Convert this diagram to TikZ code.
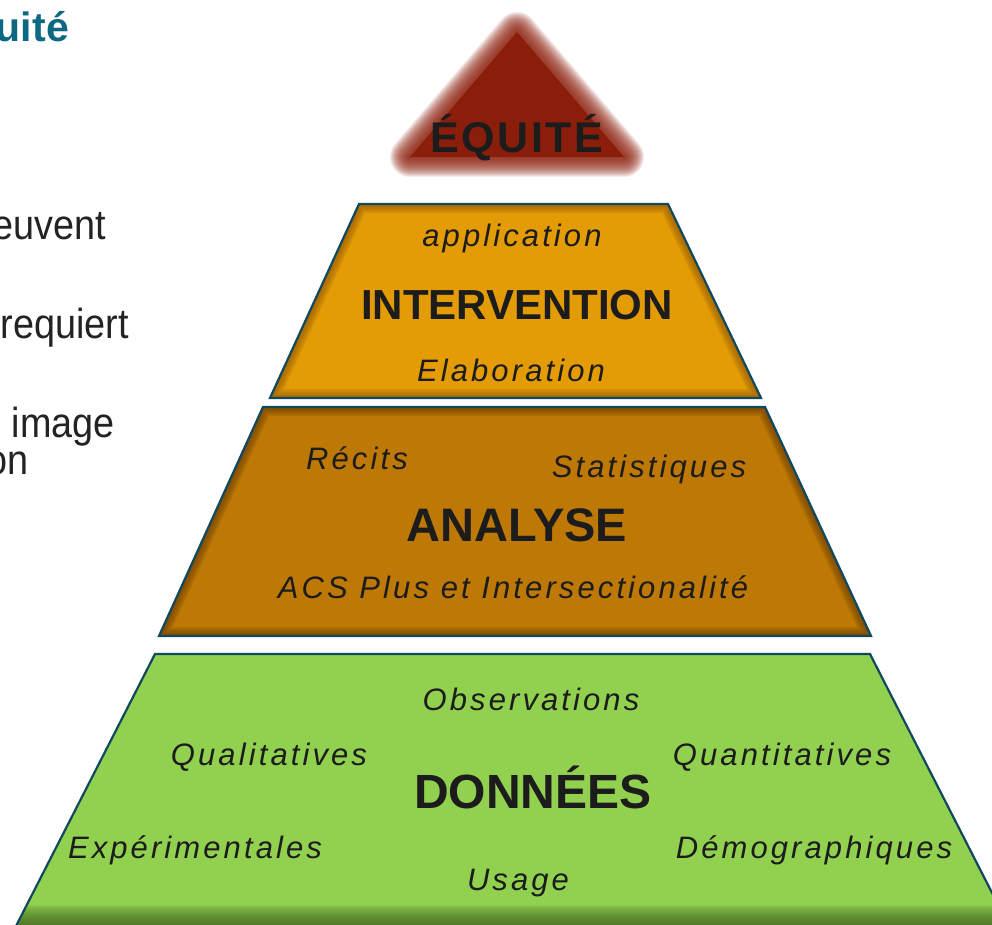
\documentclass[tikz,border=0pt]{standalone}
\usepackage{fontspec}
\setmainfont{Liberation Sans}
\newfontfamily\labf[LetterSpace=10]{Liberation Sans}
\newfontfamily\narrowf[FakeStretch=0.9]{Liberation Sans}
\definecolor{txt}{RGB}{28,28,28}
\definecolor{edge}{RGB}{16,72,94}
\definecolor{eqred}{RGB}{139,30,11}
\definecolor{intfill}{RGB}{227,155,6}
\definecolor{intdark}{RGB}{140,85,0}
\definecolor{anafill}{RGB}{190,120,5}
\definecolor{anadark}{RGB}{100,58,0}
\definecolor{donfill}{RGB}{146,208,80}
\definecolor{dondark}{RGB}{55,85,25}
\definecolor{teal}{RGB}{14,104,130}
\definecolor{bodytxt}{RGB}{35,35,35}
\tikzset{
  lbl/.style={font=\labf\itshape\fontsize{31}{33}\selectfont, text=txt, anchor=base, inner sep=0pt},
  ttl/.style={font=\bfseries\fontsize{42}{44}\selectfont, text=txt, anchor=base, inner sep=0pt},
  ttlbig/.style={font=\bfseries\fontsize{47}{49}\selectfont, text=txt, anchor=base, inner sep=0pt},
  side/.style={font=\narrowf\fontsize{42}{44}\selectfont, text=bodytxt, anchor=base west, inner sep=0pt},
  border/.style={draw=edge, line width=2.2pt, line join=miter}
}
\begin{document}
\begin{tikzpicture}[x=1pt,y=-1pt]
\useasboundingbox (0,0) rectangle (992,925);

% ---- cut-off slide text on the left
\node[font=\bfseries\fontsize{41}{43}\selectfont, text=teal, anchor=base east, inner sep=0pt] (ttlleft) at (69,42) {uité};
\node[side, anchor=base east] (s1) at (106,240) {euvent};
\node[side, anchor=base east] (s2) at (129,338) {requiert};
\node[side, anchor=base east] (s3) at (115,437) {image};
\node[side, anchor=base east] (s4) at (29,474) {on};

% ---- blurred triangle (Équité)
\coordinate (ta) at (517,32);
\coordinate (tb) at (410,157);
\coordinate (tc) at (624,157);
\fill[eqred] (ta) -- (tb) -- (tc) -- cycle;
\foreach \w in {2,4,...,40}{
  \draw[eqred, line width=\w pt, line join=round, opacity=0.095] (ta) -- (tb) -- (tc) -- cycle;
}
\node[ttl, font=\bfseries\fontsize{43}{45}\selectfont, text=txt] (equite) at (517,153) {\addfontfeatures{LetterSpace=6}ÉQUITÉ};

% ---- Intervention
\coordinate (i1) at (359,204);
\coordinate (i2) at (668,204);
\coordinate (i3) at (761,398);
\coordinate (i4) at (270,398);
\begin{scope}
  \clip (i1) -- (i2) -- (i3) -- (i4) -- cycle;
  \fill[intfill] (i1) -- (i2) -- (i3) -- (i4) -- cycle;
  \foreach \w in {3,6,...,18}{
    \draw[intdark, line width=\w pt, opacity=0.16] (i1) -- (i2) -- (i3) -- (i4) -- cycle;
  }
\end{scope}
\draw[border] (i1) -- (i2) -- (i3) -- (i4) -- cycle;
\node[lbl] (appl) at (512,247) {application};
\node[ttl] (interv) at (517,319) {INTERVENTION};
\node[lbl] (elab) at (511,381) {Elaboration};

% ---- Analyse
\coordinate (a1) at (263,407);
\coordinate (a2) at (765,407);
\coordinate (a3) at (871,636);
\coordinate (a4) at (159,636);
\begin{scope}
  \clip (a1) -- (a2) -- (a3) -- (a4) -- cycle;
  \fill[anafill] (a1) -- (a2) -- (a3) -- (a4) -- cycle;
  \foreach \w in {3,6,...,18}{
    \draw[anadark, line width=\w pt, opacity=0.16] (a1) -- (a2) -- (a3) -- (a4) -- cycle;
  }
\end{scope}
\draw[border] (a1) -- (a2) -- (a3) -- (a4) -- cycle;
\node[lbl] (recits) at (357,469) {Récits};
\node[lbl] (stats) at (649,477) {Statistiques};
\node[ttlbig] (analyse) at (517,541) {ANALYSE};
\node[lbl] (acs) at (513,598) {ACS Plus et Intersectionalité};

% ---- Données
\coordinate (d1) at (155,654);
\coordinate (d2) at (870,654);
\coordinate (d3) at (1010,928);
\coordinate (d4) at (15,928);
\begin{scope}
  \clip (d1) -- (d2) -- (d3) -- (d4) -- cycle;
  \fill[donfill] (d1) -- (d2) -- (d3) -- (d4) -- cycle;
  \foreach \y in {0,2,...,18}{
    \fill[dondark, opacity=0.1] (0,905+\y) rectangle (1020,930);
  }
\end{scope}
\draw[border] (d4) -- (d1) -- (d2) -- (d3);
\node[lbl] (obs) at (531,710) {Observations};
\node[lbl] (quali) at (269,765) {Qualitatives};
\node[lbl] (quanti) at (782,765) {Quantitatives};
\node[ttlbig, font=\bfseries\fontsize{48}{50}\selectfont] (donnees) at (533,808) {DONNÉES};
\node[lbl] (exper) at (195,858) {Expérimentales};
\node[lbl] (demo) at (814,858) {Démographiques};
\node[lbl] (usage) at (518,890) {Usage};
\end{tikzpicture}
\end{document}
